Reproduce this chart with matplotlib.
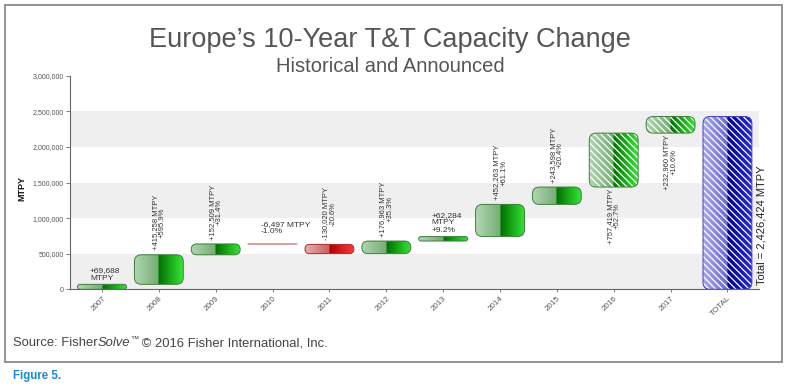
import numpy as np
import matplotlib
matplotlib.use("Agg")
import matplotlib.pyplot as plt
from matplotlib.patches import FancyBboxPatch, Rectangle
from matplotlib.colors import to_rgb
from matplotlib.ticker import FuncFormatter

plt.rcParams['font.family'] = ['Liberation Sans', 'DejaVu Sans']
plt.rcParams['hatch.linewidth'] = 0.9

# chart data
categories = ["2007", "2008", "2009", "2010", "2011", "2012", "2013",
              "2014", "2015", "2016", "2017", "TOTAL"]
changes = [69688, 415258, 152509, -6497, -130020, 176963, 62284,
           452263, 243598, 757419, 232960]
announced = [False, False, False, False, False, False, False,
             False, False, True, True]
total_value = 2426424
yticks = [0, 500000, 1000000, 1500000, 2000000, 2500000, 3000000]
bands = [(0, 500000), (1000000, 1500000), (2000000, 2500000)]

# label layout: 'h' = horizontal above, 'v' = vertical above, 'vb' = vertical below
label_mode = ['h', 'v', 'v', 'h', 'v', 'v', 'h', 'v', 'v', 'vb', 'vb']

W, H = 786, 389
fig = plt.figure(figsize=(W / 100, H / 100), dpi=100)
ax = fig.add_axes([70 / W, 1 - 289.3 / H, (759 - 70) / W, (289.3 - 75.7) / H])
xlim = (-0.563, 11.555)
ylim = (0, 3000000)

x_ppu = (759 - 70) / (xlim[1] - xlim[0])
y_ppu = (289.3 - 75.7) / (ylim[1] - ylim[0])
aspect = x_ppu / y_ppu
bar_w = 0.86

for lo, hi in bands:
    ax.axhspan(lo, hi, color="#efefef", zorder=0, lw=0)

green = dict(l=("#b2d6b2", "#74ad74"), r=("#007000", "#35e535"), edge="#3d7d3d")
red = dict(l=("#eab0b0", "#c86060"), r=("#b00000", "#ff3a3a"), edge="#9a3030")
blue = dict(l=("#a8a8ec", "#6a6ad0"), r=("#000090", "#2a2ad8"), edge="#4040c0")


def gradient(c):
    n = 100
    img = np.zeros((1, 2 * n, 3))
    for k, (a, b) in enumerate([c["l"], c["r"]]):
        a, b = np.array(to_rgb(a)), np.array(to_rgb(b))
        t = np.linspace(0, 1, n)[:, None]
        img[0, k * n:(k + 1) * n] = a * (1 - t) + b * t
    return img


def draw_bar(x, y0, y1, c, hatch=False):
    lo, hi = min(y0, y1), max(y0, y1)
    h = hi - lo
    rpx = min(7.0, h * y_ppu / 2, bar_w * x_ppu / 2)
    r = rpx / x_ppu
    thin = h * y_ppu < 2
    box = FancyBboxPatch((x - bar_w / 2, lo), bar_w, h,
                         boxstyle=f"round,pad=0,rounding_size={r}",
                         mutation_aspect=aspect, facecolor="none",
                         edgecolor="#d8a0a0" if thin else c["edge"],
                         lw=0.9 if thin else 0.7, zorder=4)
    ax.add_patch(box)
    im = ax.imshow(gradient(c), extent=[x - bar_w / 2, x + bar_w / 2, lo, hi],
                   aspect="auto", zorder=3, interpolation="bilinear")
    im.set_clip_path(box)
    if thin:
        im.set_visible(False)
    if hatch:
        hp = FancyBboxPatch((x - bar_w / 2, lo), bar_w, h,
                            boxstyle=f"round,pad=0,rounding_size={r}",
                            mutation_aspect=aspect, facecolor="none",
                            edgecolor="white", lw=0, hatch="\\" * 5, zorder=3.5)
        ax.add_patch(hp)


lab_kw = dict(fontsize=5.5, color="#333333", zorder=6)
level = 0
for i, ch in enumerate(changes):
    start, end = level, level + ch
    level = end
    draw_bar(i, start, end, green if ch > 0 else red, hatch=announced[i])
    pct = ch / start * 100 if start else None
    top, bottom = max(start, end), min(start, end)
    mode = label_mode[i]
    if mode == 'h':
        if pct is None:
            s = f"{ch:+,}\nMTPY"
        elif ch > 0:
            s = f"{ch:+,}\nMTPY\n{pct:+.1f}%"
        else:
            s = f"{ch:+,} MTPY\n{pct:+.1f}%"
        off = 35000 if i != 3 else 120000
        ax.text(i - 0.21, top + off, s, ha="left", va="bottom",
                linespacing=1.15, fontsize=6, color="#333333", zorder=6)
    elif mode == 'v':
        ax.text(i, top + 60000, f"{ch:+,} MTPY\n{pct:+.1f}%", rotation=90,
                ha="center", va="bottom", multialignment="center",
                linespacing=1.05, **lab_kw)
    else:
        ax.text(i, bottom - 20000, f"{ch:+,} MTPY\n{pct:+.1f}%", rotation=90,
                ha="center", va="top", multialignment="center",
                linespacing=1.05, **lab_kw)

draw_bar(len(changes), 0, total_value, blue, hatch=True)
ax.text(11.6, 60000, f"Total = {total_value:,} MTPY", rotation=90,
        ha="center", va="bottom", fontsize=8, color="#222222", zorder=6,
        clip_on=False)

ax.set_xlim(*xlim)
ax.set_ylim(*ylim)
ax.set_xticks(range(len(categories)))
ax.set_xticklabels(categories, rotation=45, ha="right", rotation_mode="anchor",
                   fontsize=5.8, color="#555555")
ax.set_yticks(yticks)
ax.yaxis.set_major_formatter(FuncFormatter(lambda v, p: f"{int(v):,}"))
ax.tick_params(axis="y", labelsize=5, labelcolor="#555555", length=3,
               width=0.6, color="#666666", pad=1.5)
ax.tick_params(axis="x", length=2, width=0.6, color="#666666", pad=2)
for s in ["top", "right"]:
    ax.spines[s].set_visible(False)
for s in ["left", "bottom"]:
    ax.spines[s].set_color("#666666")
    ax.spines[s].set_linewidth(0.8)
ax.set_ylabel("MTPY", fontsize=6.5, fontweight="bold", color="#111111")
ax.yaxis.set_label_coords(-44 / (759 - 70), 0.47)
ax.set_facecolor("white")

# titles
fig.text(390 / W, 1 - 40 / H, "Europe’s 10-Year T&T Capacity Change",
         ha="center", va="center", fontsize=19.5, color="#555555")
fig.text(390 / W, 1 - 66 / H, "Historical and Announced",
         ha="center", va="center", fontsize=14.5, color="#555555")

# source line
src_kw = dict(fontsize=9.4, color="#444444")
t1 = fig.text(13 / W, 1 - 343 / H, "Source: Fisher", ha="left", va="center", **src_kw)
fig.canvas.draw()
r = fig.canvas.get_renderer()
bb1 = t1.get_window_extent(r)
t2 = fig.text(bb1.x1 / W, bb1.y0 / H, "Solve", style="italic",
              ha="left", va="bottom", **src_kw)
fig.canvas.draw()
bb2 = t2.get_window_extent(r)
t3 = fig.text(bb2.x1 / W, (bb1.y0 + 6) / H, "™", ha="left", va="bottom",
              fontsize=6, color="#444444")
fig.canvas.draw()
bb3 = t3.get_window_extent(r)
fig.text(bb3.x1 / W, bb1.y0 / H, " © 2016 Fisher International, Inc.",
         ha="left", va="bottom", **src_kw)

fig.text(13 / W, 1 - 376 / H, "Figure 5.", ha="left", va="center",
         fontsize=8.3, fontweight="bold", color="#1a8ad4")

# outer frame
fig.patches.append(Rectangle((4.5 / W, 1 - 362 / H), (782 - 4.5) / W, (362 - 4.5) / H,
                             transform=fig.transFigure, fill=False,
                             edgecolor="#8a8a8a", lw=1.3))

fig.savefig("out.png", dpi=100)
